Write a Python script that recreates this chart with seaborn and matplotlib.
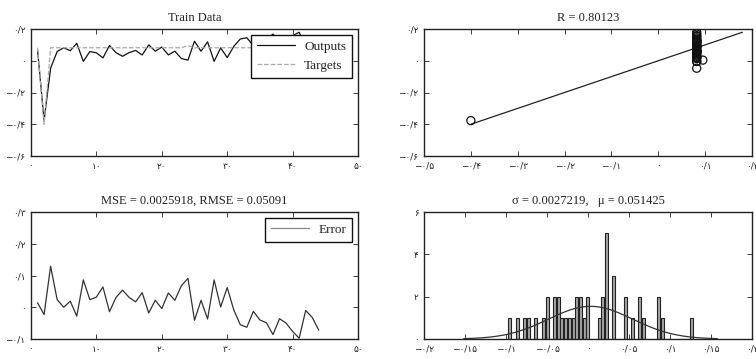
import numpy as np
import pandas as pd
import matplotlib
matplotlib.use("Agg")
import matplotlib.pyplot as plt
import seaborn as sns

# ---------------- data ----------------
sample_idx = list(range(1, 45))
targets = [0.082, -0.400] + [0.082] * 21 + [0.095] + [0.082] * 20
outputs = [0.068, -0.377, -0.047, 0.058, 0.082, 0.063, 0.110, -0.004, 0.058, 0.050,
           0.018, 0.096, 0.051, 0.028, 0.051, 0.065, 0.036, 0.100, 0.060, 0.086,
           0.037, 0.060, 0.014, 0.004, 0.123, 0.060, 0.119, -0.004, 0.081, 0.020,
           0.090, 0.137, 0.145, 0.095, 0.122, 0.131, 0.168, 0.118, 0.132, 0.158,
           0.1795, 0.092, 0.114, 0.154]
errors = [0.014, -0.023, 0.129, 0.024, 0.000, 0.019, -0.028, 0.086, 0.024, 0.032,
          0.064, -0.014, 0.031, 0.054, 0.031, 0.017, 0.046, -0.018, 0.022, -0.004,
          0.045, 0.022, 0.068, 0.091, -0.041, 0.022, -0.037, 0.086, 0.001, 0.062,
          -0.008, -0.055, -0.063, -0.013, -0.040, -0.049, -0.086, -0.036, -0.050, -0.076,
          -0.0975, -0.010, -0.032, -0.072]

title_train = "Train Data"
title_reg = "R = 0.80123"
title_err = "MSE = 0.0025918, RMSE = 0.05091"
title_hist = "\u03c3 = 0.0027219,   \u03bc = 0.051425"

ticks_idx = [0, 10, 20, 30, 40, 50]
ticks_y1 = [-0.6, -0.4, -0.2, 0, 0.2]
ticks_x2 = [-0.5, -0.4, -0.3, -0.2, -0.1, 0, 0.1, 0.2]
ticks_y3 = [-0.1, 0, 0.1, 0.2, 0.3]
ticks_x4 = [-0.2, -0.15, -0.1, -0.05, 0, 0.05, 0.1, 0.15, 0.2]
ticks_y4 = [0, 2, 4, 6]
n_bins = 50

# ---------------- style ----------------
sns.set_theme(style="ticks")
plt.rcParams["font.family"] = ["DejaVu Sans"]
plt.rcParams["axes.linewidth"] = 1.0
plt.rcParams["axes.edgecolor"] = "#222222"

PERSIAN = str.maketrans("0123456789.-", "\u06f0\u06f1\u06f2\u06f3\u06f4\u06f5\u06f6\u06f7\u06f8\u06f9/\u2212")


def fa(v):
    s = ("%g" % v)
    if s == "-0":
        s = "0"
    return s.translate(PERSIAN)


SERIF = ["Liberation Serif", "DejaVu Serif"]
W, H = 756, 359
fig = plt.figure(figsize=(W / 100, H / 100), dpi=100)


def add_ax(l, r, t, b):
    return fig.add_axes([l / W, 1 - b / H, (r - l) / W, (b - t) / H])


ax1 = add_ax(31, 358, 29, 156)
ax2 = add_ax(424, 752, 29, 156)
ax3 = add_ax(31, 358, 212, 339)
ax4 = add_ax(424, 752, 212, 339)


def style(ax, xt, yt, xlim, ylim, title):
    ax.set_xlim(*xlim)
    ax.set_ylim(*ylim)
    ax.set_xticks(xt, [fa(v) for v in xt])
    ax.set_yticks(yt, [fa(v) for v in yt])
    ax.tick_params(direction="in", length=3.5, width=0.6, top=True, right=True,
                   labelsize=6.5, pad=4, colors="#222222")
    for s in ax.spines.values():
        s.set_visible(True)
        s.set_color("#222222")
        s.set_linewidth(1.0)
    ax.set_xlabel("")
    ax.set_ylabel("")
    ax.set_title(title, family=SERIF, fontsize=9, pad=6, color="#222222")


# ---- Train data ----
df1 = pd.DataFrame({"idx": sample_idx, "out": outputs, "tgt": targets})
sns.lineplot(data=df1, x="idx", y="out", ax=ax1, color="#111111", lw=0.9, label="Outputs")
sns.lineplot(data=df1, x="idx", y="tgt", ax=ax1, color="#aaaaaa", lw=0.9,
             linestyle="--", label="Targets")
style(ax1, ticks_idx, ticks_y1, (0, 50), (-0.6, 0.2), title_train)
leg = ax1.legend(loc="upper right", prop={"family": SERIF, "size": 9.5}, frameon=True,
                 fancybox=False, edgecolor="#111111", framealpha=1, handlelength=2.9,
                 borderpad=0.45, labelspacing=0.5, borderaxespad=0.45, handletextpad=0.7)
leg.get_frame().set_linewidth(1.0)
leg.set_zorder(5)

# ---- Regression ----
df2 = pd.DataFrame({"t": targets, "y": outputs})
lo = min(min(targets), min(outputs))
hi = max(max(targets), max(outputs))
sns.lineplot(x=[lo, hi], y=[lo, hi], ax=ax2, color="#222222", lw=0.9)
sns.scatterplot(data=df2, x="t", y="y", ax=ax2, marker="o", s=34, facecolor="none",
                edgecolor="#111111", linewidth=0.9, zorder=3)
style(ax2, ticks_x2, ticks_y1, (-0.5, 0.2), (-0.6, 0.2), title_reg)

# ---- Error ----
df3 = pd.DataFrame({"idx": sample_idx, "e": errors})
sns.lineplot(data=df3, x="idx", y="e", ax=ax3, color="#333333", lw=0.9, label="Error")
style(ax3, ticks_idx, ticks_y3, (0, 50), (-0.1, 0.3), title_err)
leg3 = ax3.legend(loc="upper right", prop={"family": SERIF, "size": 9.5}, frameon=True,
                  fancybox=False, edgecolor="#111111", framealpha=1, handlelength=2.9,
                  borderpad=0.45, borderaxespad=0.45, handletextpad=0.7)
leg3.get_frame().set_linewidth(1.0)
for line in leg3.get_lines():
    line.set_color("#888888")

# ---- Histogram ----
e = np.array(errors)
sns.histplot(x=e, bins=n_bins, ax=ax4, shrink=0.8, color="#a6a6a6", edgecolor="#222222",
             linewidth=0.8, alpha=1)
mu, sd = e.mean(), e.std(ddof=1)
bw = (e.max() - e.min()) / n_bins
xs = np.linspace(mu - 3 * sd, mu + 3 * sd, 200)
ys = len(e) * bw * np.exp(-0.5 * ((xs - mu) / sd) ** 2) / (sd * np.sqrt(2 * np.pi))
sns.lineplot(x=xs, y=ys, ax=ax4, color="#333333", lw=0.9)
style(ax4, ticks_x4, ticks_y4, (-0.2, 0.2), (0, 6), title_hist)

fig.savefig("out.png", dpi=100)
